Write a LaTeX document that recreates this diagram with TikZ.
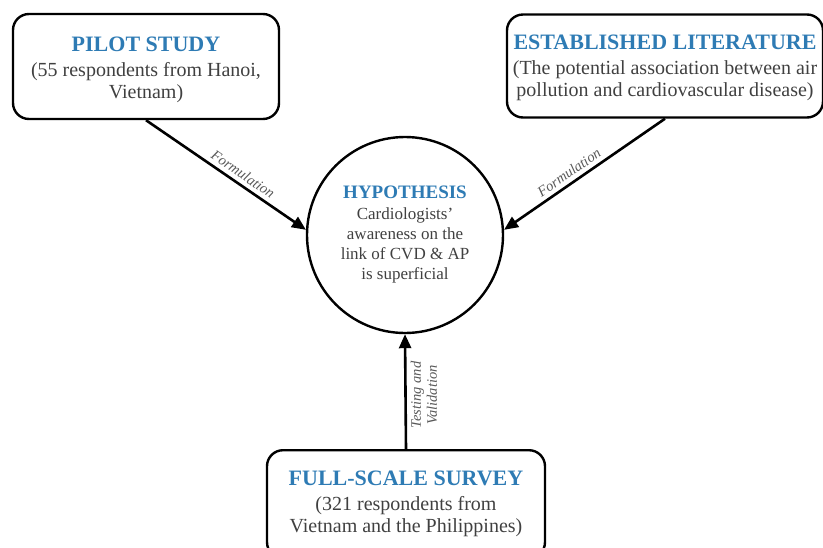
\documentclass[tikz,border=0pt]{standalone}
\usepackage{fontspec}
\setmainfont{Liberation Serif}
\usepackage[HTML]{xcolor}
\usetikzlibrary{positioning, arrows.meta}
\definecolor{headblue}{HTML}{2E7BB4}
\definecolor{bodygrey}{HTML}{404040}
\definecolor{notegrey}{HTML}{595959}
\tikzset{
  stagebox/.style={draw, line width=2.4pt, rounded corners=16pt, align=center,
    text=bodygrey, font=\fontsize{20}{22}\selectfont, inner sep=2pt},
  hypnode/.style={draw, circle, line width=2.4pt, minimum size=196pt, align=center,
    text=bodygrey, font=\fontsize{17}{20}\selectfont, inner sep=0pt},
  flowarrow/.style={-{Triangle[length=14pt,width=12pt]}, line width=2.6pt},
  steplabel/.style={font=\fontsize{14.5}{16}\selectfont\itshape, text=notegrey, align=center}
}
\newcommand{\boxtitle}[1]{{\fontsize{22}{22}\selectfont\bfseries\color{headblue}#1}}
\newcommand{\hyptitle}[1]{{\fontsize{19}{20}\selectfont\bfseries\color{headblue}#1}}

\begin{document}
\begin{tikzpicture}[x=1pt,y=-1pt]
\useasboundingbox (0,0) rectangle (823,547);
% the three sources
\node[stagebox, minimum width=266pt, minimum height=105pt] (pilot) at (146,66.5)
  {\rule{0pt}{22pt}\boxtitle{PILOT STUDY}\\[3pt](55 respondents from Hanoi,\\Vietnam)};
\node[stagebox, minimum width=316pt, minimum height=103pt] (lit) at (665,66)
  {\rule{0pt}{19pt}\boxtitle{ESTABLISHED LITERATURE}\\[3pt](The potential association between air\\pollution and cardiovascular disease)};
\node[stagebox, minimum width=278pt, minimum height=108pt, anchor=north] (survey) at (406,449)
  {\boxtitle{FULL-SCALE SURVEY}\\[3pt](321 respondents from\\Vietnam and the Philippines)};
% hypothesis in the middle
\node[hypnode] (hyp) at (405,235)
  {\hyptitle{HYPOTHESIS}\\[1pt]Cardiologists'\\awareness on the\\link of CVD \& AP\\is superficial};
% arrows
\draw[flowarrow] (pilot.south) -- node[steplabel, sloped, above, pos=0.57, inner sep=4pt] {Formulation} (hyp.177);
\draw[flowarrow] (lit.south) -- node[steplabel, sloped, above, pos=0.56, inner sep=4pt] {Formulation} (hyp.3);
\draw[flowarrow] (survey.north) -- node[steplabel, rotate=90, anchor=north, pos=0.47, inner sep=4pt] {Testing and\\Validation} (hyp.south);
\end{tikzpicture}
\end{document}
